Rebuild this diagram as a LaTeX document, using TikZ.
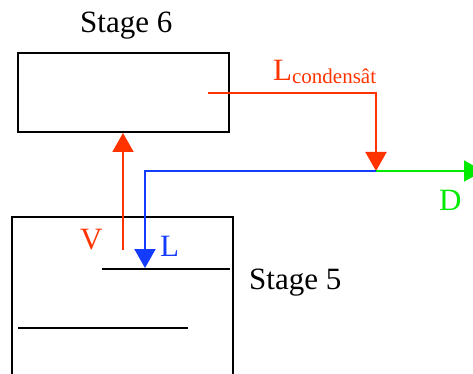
\documentclass[tikz,border=0pt]{standalone}
\usepackage{fontspec}
\setmainfont{Liberation Serif}
\usetikzlibrary{arrows.meta}
\definecolor{cred}{RGB}{255,51,0}
\definecolor{cblue}{RGB}{20,60,255}
\definecolor{cgreen}{RGB}{0,235,0}
\begin{document}
\begin{tikzpicture}[x=1pt,y=-1pt,
  lbl/.style={anchor=base west,inner sep=0pt,font=\fontsize{31}{31}\selectfont},
  stagebox/.style={draw=black,line width=2pt,inner sep=0pt},
  flow/.style={line width=2pt,-{Triangle[length=19pt,width=21pt]}}]
\useasboundingbox (0,0) rectangle (473,374);
\clip (0,0) rectangle (473,374);
% stage 6
\node[stagebox,minimum width=211pt,minimum height=79pt] (box6) at (123.5,92.5) {};
\node[lbl] (s6) at (80,33) {Stage 6};
% stage 5
\draw[black,line width=2pt] (12,390) -- (12,217) -- (233,217) -- (233,390);
\coordinate (box5top) at (123,217);
\draw[black,line width=2pt] (102,269) coordinate (trayA) -- (230,269) coordinate (trayAr);
\draw[black,line width=2pt] (18,328) coordinate (trayB) -- (188,328) coordinate (trayBr);
\node[lbl] (s5) at (249,289) {Stage 5};
% coordinates
\coordinate (cond) at (208,93);
\coordinate (junc) at (376,171);
\coordinate (lcorner) at (145,171);
\coordinate (ltip) at (145,268);
\coordinate (vstart) at (123,250);
\coordinate (dend) at (483,171);
% flows
\draw[flow,cred] (cond) -| (junc);
\draw[flow,cblue] (junc) -- (lcorner) -- (ltip);
\draw[flow,cgreen] (junc) -- (dend);
\draw[flow,cred] (vstart) -- (vstart |- box6.south);
% labels
\node[lbl,text=cred] (lc) at (273,81) {L{\fontsize{21}{21}\selectfont\raisebox{-3pt}{condensât}}};
\node[lbl,text=cred] (v) at (80,249) {V};
\node[lbl,text=cblue] (l) at (160,256) {L};
\node[lbl,text=cgreen] (d) at (439,210) {D};
\end{tikzpicture}
\end{document}
